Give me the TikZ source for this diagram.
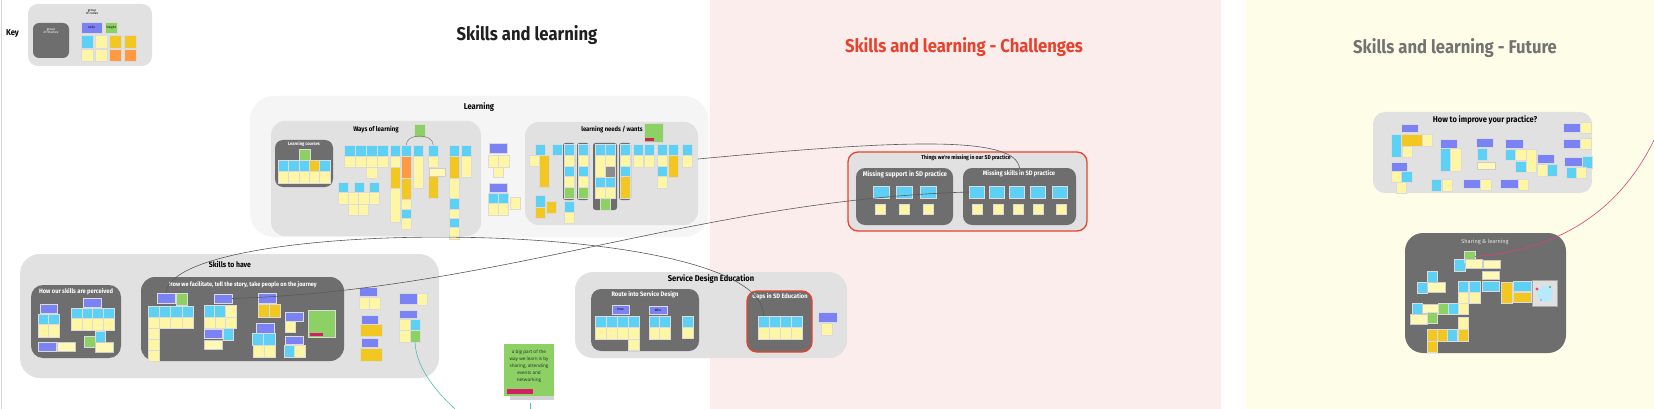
\documentclass[tikz,border=0pt]{standalone}
\usepackage{fontspec}
\setmainfont{Fira Sans}
\newfontfamily\headfont[FakeStretch=0.9]{Fira Sans}
\newfontfamily\notefont{Open Sans}
\usetikzlibrary{positioning,calc}
\definecolor{skcyan}{RGB}{93,209,245}
\definecolor{skyellow}{RGB}{255,246,165}
\definecolor{skgold}{RGB}{242,199,34}
\definecolor{skorange}{RGB}{255,154,66}
\definecolor{skgreen}{RGB}{141,209,100}
\definecolor{skpurple}{RGB}{123,130,244}
\definecolor{skdark}{RGB}{110,110,110}
\definecolor{skgroup}{RGB}{225,225,225}
\definecolor{sklight}{RGB}{245,245,245}
\definecolor{skpink}{RGB}{252,237,237}
\definecolor{skcream}{RGB}{254,254,232}
\definecolor{skred}{RGB}{232,66,44}
\definecolor{skmagenta}{RGB}{214,30,100}
\definecolor{skteal}{RGB}{80,190,170}
\definecolor{skline}{RGB}{90,90,90}
\newcommand\sticky[5]{\path[#1] (#2,#3) rectangle (#4,#5);}
\newcommand\boxnode[6]{\node[#2,anchor=north west,inner sep=0pt,outer sep=0pt,minimum width={#5-#3},minimum height={#6-#4}] (#1) at (#3,#4) {};}

\begin{document}
\begin{tikzpicture}[x=1pt,y=-1pt,
  stk/.style={draw=black!14,line width=0.3pt},
  ncyan/.style={stk,fill=skcyan},
  nyel/.style={stk,fill=skyellow},
  ngold/.style={stk,fill=skgold},
  norange/.style={stk,fill=skorange},
  ngreen/.style={stk,fill=skgreen},
  npurple/.style={stk,fill=skpurple},
  nslip/.style={stk,fill=skyellow!80,draw=black!20},
  nbar/.style={fill=skmagenta},
  ncol/.style={fill=skdark,rounded corners=2.5pt},
  grp/.style={fill=skgroup,rounded corners=14pt},
  darkgrp/.style={fill=skdark,rounded corners=10pt},
  redgrp/.style={draw=skred,line width=1.3pt},
  ttl/.style={inner sep=0pt,font=\headfont\bfseries\fontsize{#1}{#1}\selectfont},
  wttl/.style={ttl=#1,text=white},
  notetxt/.style={inner sep=0pt,font=\fontsize{3.2}{3.8}\selectfont,align=center},
  conn/.style={draw=skline,line width=0.6pt}]
\useasboundingbox (0,0) rectangle (1654,409);
\fill[white] (0,0) rectangle (1654,409);
\fill[skpink] (710,0) rectangle (1221,409);
\fill[skcream] (1245,0) rectangle (1654,409);
\draw[black!15] (1,0) -- (1,409);

\node[ttl=18.5,text=black!88] (mainhead) at (527,35.5) {Skills and learning};
\node[ttl=18.5,text=skred] (challhead) at (964,47.5) {Skills and learning - Challenges};
\node[ttl=18.5,text=black!55] (futurehead) at (1455,48.5) {Skills and learning - Future};

% key
\node[ttl=8.5] (keylabel) at (12.5,33.5) {Key};
\boxnode{keybox}{grp,rounded corners=10pt}{28}{4}{152}{66}
\boxnode{keygroup}{darkgrp,rounded corners=6pt}{33}{23}{69}{58}
\node[notetxt,text=white] (keygtxt) at (51,31) {group\\of themes};
\node[notetxt] (keyctxt) at (92,12) {group\\of codes};
\boxnode{keycode}{npurple}{81}{22}{102}{33}
\node[notetxt] (keycodetxt) at (keycode) {code};
\boxnode{keyinsight}{ngreen}{105}{22}{117}{33}
\node[notetxt] (keyinsighttxt) at (keyinsight) {insight};
\sticky{ncyan}{81}{35}{93}{48}
\sticky{nyel}{95}{35}{107}{48}
\sticky{ngold}{109}{35}{121}{48}
\sticky{ngold}{124}{35}{136}{48}
\sticky{nyel}{81}{49}{93}{61}
\sticky{nyel}{95}{49}{107}{61}
\sticky{norange}{109}{49}{121}{61}
\sticky{norange}{124}{49}{136}{61}

% learning
\boxnode{learnbox}{grp,fill=sklight,rounded corners=24pt}{250}{96}{708}{237}
\node[ttl=8.5] (learntitle) at (479,107) {Learning};
\boxnode{waysbox}{grp}{271}{121}{481}{236}
\node[ttl=6.7] (waystitle) at (376,130) {Ways of learning};
\boxnode{coursebox}{darkgrp,rounded corners=8pt}{275}{140}{333}{187}
\node[wttl=4.6] (coursetitle) at (304,144) {Learning courses};
\sticky{ngreen}{299}{149}{310}{160}
\foreach \x in {278,288.4,298.8,319.6} {\sticky{ncyan}{\x}{160}{\x+10.4}{171}}
\sticky{ngold}{309.2}{160}{319.6}{171}
\foreach \x in {278,288.4,298.8,309.2,319.6} {\sticky{nyel}{\x}{171}{\x+10.4}{183}}
\foreach \x in {344,355,366,377} {\sticky{ncyan}{\x}{145}{\x+11}{156} \sticky{nyel}{\x}{156}{\x+11}{167}}
\foreach \x in {390,413,449,461} {\sticky{ncyan}{\x}{145}{\x+10.5}{156}}
\boxnode{wlarcl}{ncyan}{401}{145}{411.5}{156}
\boxnode{wlarcr}{ncyan}{428}{145}{438.5}{156}
\foreach \x in {390,428,461} {\sticky{nyel}{\x}{156}{\x+10.5}{167}}
\sticky{nyel}{366}{167}{377}{178}
\sticky{ngold}{390}{167}{400.5}{188}
\sticky{nyel}{390}{188}{400.5}{222}
\sticky{norange}{401}{156}{411.5}{178}
\sticky{ngold}{401}{178}{411.5}{199}
\sticky{nyel}{401}{199}{411.5}{209}
\sticky{ncyan}{401}{209}{411.5}{218}
\sticky{nyel}{401}{218}{411.5}{229}
\sticky{nyel}{413}{156}{423.5}{188}
\sticky{ngold}{428}{176}{438.5}{198}
\sticky{nslip}{429}{168}{445}{176}
\sticky{ngold}{449}{156}{459.5}{178}
\sticky{nyel}{449}{178}{459.5}{198}
\sticky{ncyan}{449}{198}{459.5}{209}
\sticky{nyel}{449}{209}{459.5}{218}
\sticky{ncyan}{449}{218}{459.5}{227}
\sticky{nyel}{449}{227}{459.5}{239}
\sticky{nyel}{461}{156}{471.5}{177}
\foreach \x in {338,354,369} {\sticky{ncyan}{\x}{182}{\x+10.5}{192}}
\foreach \x in {338,348.3,358.6,368.9} {\sticky{nyel}{\x}{192}{\x+10.3}{204}}
\foreach \x in {348,358} {\sticky{nyel}{\x}{204}{\x+10}{215}}
\boxnode{wlgreen}{ngreen}{414}{124}{425}{137}
\draw[skline!80,line width=0.5pt] (wlarcl.north) .. controls (406,133) and (433,133) .. (wlarcr.north);

\sticky{npurple}{489}{143}{507}{153}
\foreach \x in {488,498.5} {\sticky{nyel}{\x}{155}{\x+10.5}{167}}
\sticky{nyel}{493}{167}{503}{177}
\sticky{npurple}{489}{183}{507}{192}
\foreach \x in {488,498} {\sticky{ncyan}{\x}{193}{\x+10}{203} \sticky{nyel}{\x}{203}{\x+10}{215}}
\sticky{nyel}{510}{197}{520}{209}

\boxnode{needsbox}{grp}{525}{122}{698}{225}
\node[ttl=6.5] (needstitle) at (612,130) {learning needs / wants};
\sticky{ngreen}{644}{123}{663}{142}
\sticky{nbar}{645}{138}{654}{141}
\sticky{ncol}{563}{143}{575}{200}
\sticky{ncol}{577}{143}{589}{200}
\sticky{ncol}{593}{143}{617}{210}
\sticky{ncol}{619}{143}{631}{200}
\foreach \x in {535,552,564,578,595,605,620,633,644,657,668,682} {\sticky{ncyan}{\x}{144}{\x+10}{155}}
\sticky{nyel}{529}{155}{539}{166}
\sticky{ngold}{539}{155}{549}{187}
\foreach \x in {564,578} {\sticky{nyel}{\x}{155}{\x+10}{166} \sticky{ncyan}{\x}{166}{\x+10}{176} \sticky{nyel}{\x}{176}{\x+10}{187} \sticky{ngreen}{\x}{187}{\x+10}{198}}
\sticky{nyel}{595}{155}{605}{177}
\sticky{nyel}{605}{155}{615}{166}
\sticky{stk,fill=black!45}{605}{166}{615}{177}
\foreach \x in {595,605} {\sticky{ncyan}{\x}{177}{\x+10}{187} \sticky{nyel}{\x}{187}{\x+10}{198}}
\sticky{ngreen}{600}{198}{610}{210}
\sticky{nyel}{620}{155}{630}{166}
\sticky{ncyan}{620}{166}{630}{176}
\sticky{ngold}{620}{176}{630}{198}
\foreach \x in {633,644,682} {\sticky{nyel}{\x}{155}{\x+10}{167}}
\sticky{nyel}{657}{155}{667}{166}
\sticky{ncyan}{657}{166}{667}{176}
\sticky{nyel}{657}{176}{667}{188}
\sticky{ngold}{668}{155}{678}{177}
\sticky{ncyan}{535}{195}{545}{207}
\sticky{ngold}{535}{207}{545}{218}
\sticky{ngold}{546}{201}{556}{213}
\sticky{ncyan}{564}{201}{574}{212}
\sticky{nyel}{564}{212}{574}{223}

% skills to have
\boxnode{havebox}{grp,rounded corners=20pt}{20}{254}{439}{378}
\node[ttl=7.7] (havetitle) at (230,264) {Skills to have};
\boxnode{percbox}{darkgrp,rounded corners=12pt}{31}{285}{121}{358}
\node[wttl=6.4] (perctitle) at (76,292) {How our skills are perceived};
\sticky{npurple}{40}{304}{57}{313}
\foreach \x in {38,48.5} {\sticky{ncyan}{\x}{314}{\x+10.5}{324} \sticky{nyel}{\x}{324}{\x+10.5}{337}}
\sticky{npurple}{83}{298}{101}{307}
\foreach \x in {71,81.75,92.5,103.25} {\sticky{ncyan}{\x}{308}{\x+10.75}{318} \sticky{nyel}{\x}{318}{\x+10.75}{330}}
\sticky{ngreen}{84}{336}{95}{347}
\sticky{ncyan}{95}{331}{105}{342}
\sticky{npurple}{38}{342}{56}{351}
\sticky{nslip}{57}{342}{75}{351}
\sticky{nslip}{95}{342}{113}{352}

\boxnode{facbox}{darkgrp,rounded corners=14pt}{141}{277}{344}{361}
\node[wttl=6.1] (factitle) at (243,285) {How we facilitate, tell the story, take people on the journey};
\boxnode{faca}{npurple}{157}{293}{175}{303}
\sticky{ngreen}{176}{293}{187}{305}
\foreach \x in {148,159.25,170.5,181.75} {\sticky{ncyan}{\x}{306}{\x+11.25}{317} \sticky{nyel}{\x}{317}{\x+11.25}{328}}
\foreach \y in {328,339,350} {\sticky{nyel}{148}{\y}{159}{\y+11}}
\boxnode{facb}{npurple}{214}{294}{232}{303}
\foreach \x in {204,214.5} {\sticky{ncyan}{\x}{305}{\x+10.5}{317}}
\sticky{nyel}{225}{305}{236}{317}
\foreach \x in {204,214.7,225.3} {\sticky{nyel}{\x}{317}{\x+10.7}{328}}
\sticky{npurple}{204}{329}{222}{338}
\sticky{ncyan}{223}{328}{233}{340}
\sticky{nslip}{204}{340}{222}{349}
\sticky{npurple}{258}{293}{276}{303}
\foreach \x in {258,269} {\sticky{ngold}{\x}{304}{\x+11}{317}}
\sticky{npurple}{256}{323}{274}{333}
\foreach \x in {252,263.5} {\sticky{ncyan}{\x}{333}{\x+11.5}{345}}
\foreach \x in {253,264} {\sticky{nyel}{\x}{345}{\x+11}{357}}
\sticky{npurple}{285}{312}{303}{321}
\sticky{nyel}{285}{321}{295}{332}
\sticky{npurple}{285}{336}{303}{344}
\sticky{ncyan}{284}{345}{294}{357}
\sticky{nyel}{294}{345}{305}{357}
\sticky{ngreen}{308}{310}{335}{337}
\sticky{nbar}{310}{333}{323}{336}

\sticky{npurple}{359}{287}{377}{296}
\foreach \x in {359,369.5} {\sticky{nyel}{\x}{297}{\x+10.5}{309}}
\sticky{npurple}{361}{315}{378}{324}
\sticky{ngold}{360}{324}{382}{336}
\sticky{npurple}{361}{338}{378}{347}
\sticky{ngold}{360}{348}{382}{361}
\sticky{npurple}{399}{293}{417}{304}
\sticky{nyel}{417}{293}{427}{305}
\sticky{npurple}{399}{310}{417}{318}
\sticky{nyel}{399}{319}{410}{330}
\sticky{nyel}{399}{330}{410}{342}
\sticky{ncyan}{410}{319}{420}{330}
\boxnode{havegreen}{ngreen}{410}{330}{420}{342}

% service design education
\boxnode{sdebox}{grp,rounded corners=18pt}{575}{272}{847}{358}
\node[ttl=8.4] (sdetitle) at (711,279) {Service Design Education};
\boxnode{routebox}{darkgrp}{591}{289}{699}{351}
\node[wttl=6.4] (routetitle) at (645,295) {Route into Service Design};
\boxnode{routehow}{npurple}{612}{305}{629}{314}
\node[notetxt] (routehowtxt) at (routehow) {How};
\boxnode{routewho}{npurple}{649}{306}{667}{314}
\node[notetxt] (routewhotxt) at (routewho) {Who};
\foreach \x in {595,606,617,628} {\sticky{ncyan}{\x}{316}{\x+11}{327}}
\foreach \x in {595,606,617} {\sticky{nyel}{\x}{327}{\x+11}{339}}
\sticky{nyel}{628}{327}{639}{339}
\sticky{nyel}{628}{339}{639}{350}
\foreach \x in {649,659.5} {\sticky{ncyan}{\x}{316}{\x+10.5}{327} \sticky{nyel}{\x}{327}{\x+10.5}{339}}
\sticky{ncyan}{682}{316}{693}{327}
\sticky{nyel}{682}{327}{693}{338}
\boxnode{gapsbox}{darkgrp,redgrp}{747}{291}{812}{352}
\node[wttl=6.4] (gapstitle) at (780,297) {Gaps in SD Education};
\boxnode{gapa}{ncyan}{758}{316}{769}{327}
\foreach \x in {769,780,791} {\sticky{ncyan}{\x}{316}{\x+11}{327}}
\foreach \x in {758,769,780,791} {\sticky{nyel}{\x}{327}{\x+11}{339}}
\sticky{npurple}{818}{312}{837}{322}
\sticky{nyel}{821}{323}{832}{335}

\boxnode{bignote}{ngreen,draw=none}{504}{344}{554}{396}
\fill[black!35,opacity=0.5] (510,396) rectangle (554,400);
\node[inner sep=0pt,align=center,font=\notefont\fontsize{4.6}{7}\selectfont,text=black!85] (bignotetxt) at (529,366.5) {a big part of the\\way we learn is by\\sharing, attending\\events and\\networking};
\sticky{nbar}{507}{389}{533}{394}

% challenges
\boxnode{thingsbox}{grp,redgrp,rounded corners=10pt}{848}{152}{1087}{231}
\node[ttl=5.6] (thingstitle) at (966,158) {Things we're missing in our SD practice};
\boxnode{supbox}{darkgrp,rounded corners=9pt}{856}{168}{953}{225}
\node[wttl=6.8] (suptitle) at (905,174) {Missing support in SD practice};
\boxnode{mskbox}{darkgrp,rounded corners=9pt}{963}{168}{1076}{225}
\node[wttl=6.4] (msktitle) at (1019,174) {Missing skills in SD practice};
\foreach \x in {873,896,920} {\sticky{ncyan}{\x}{186}{\x+16.5}{198}}
\foreach \x in {875,899,923} {\sticky{nyel}{\x}{204}{\x+10}{214}}
\boxnode{mska}{ncyan}{969}{186}{984}{198}
\foreach \x in {989,1009,1030,1052} {\sticky{ncyan}{\x}{186}{\x+15}{198}}
\foreach \x in {972,993,1013,1033,1056} {\sticky{nyel}{\x}{204}{\x+10}{214}}

% future
\boxnode{improvebox}{grp,rounded corners=12pt}{1373}{112}{1592}{193}
\node[ttl=8.4] (improvetitle) at (1485,120) {How to improve your practice?};
\sticky{npurple}{1401}{124}{1418}{132}
\sticky{ncyan}{1391}{134}{1401}{157}
\sticky{ngold}{1401}{134}{1422}{146}
\sticky{nyel}{1422}{134}{1432}{146}
\sticky{nyel}{1402}{146}{1412}{157}
\sticky{npurple}{1391}{162}{1407}{171}
\sticky{nyel}{1391}{171}{1401}{182}
\sticky{ncyan}{1401}{171}{1412}{182}
\sticky{nyel}{1396}{182}{1406}{193}
\sticky{npurple}{1440}{139}{1457}{148}
\sticky{ncyan}{1440}{148}{1450}{171}
\sticky{nyel}{1450}{148}{1461}{171}
\sticky{ncyan}{1431}{179}{1441}{191}
\sticky{nyel}{1442}{179}{1452}{191}
\sticky{npurple}{1476}{138}{1493}{147}
\sticky{ncyan}{1477}{148}{1487}{160}
\sticky{nslip}{1477}{162}{1495}{169}
\sticky{npurple}{1463}{179}{1480}{188}
\sticky{nyel}{1480}{179}{1491}{190}
\sticky{npurple}{1505}{139}{1523}{148}
\sticky{ncyan}{1505}{149}{1515}{160}
\sticky{nyel}{1515}{149}{1526}{160}
\sticky{nyel}{1526}{149}{1536}{172}
\sticky{ncyan}{1515}{161}{1526}{172}
\sticky{npurple}{1500}{179}{1518}{188}
\sticky{nyel}{1518}{179}{1528}{190}
\sticky{npurple}{1537}{154}{1554}{163}
\sticky{nyel}{1537}{164}{1547}{176}
\sticky{ncyan}{1547}{164}{1557}{176}
\sticky{npurple}{1563}{123}{1580}{132}
\sticky{nyel}{1580}{122}{1591}{133}
\sticky{npurple}{1563}{139}{1580}{148}
\sticky{nyel}{1580}{138}{1591}{149}
\sticky{npurple}{1564}{157}{1582}{166}
\sticky{ncyan}{1582}{156}{1592}{168}
\sticky{ncyan}{1566}{167}{1576}{178}
\sticky{nyel}{1576}{167}{1586}{178}

\boxnode{sharebox}{darkgrp,rounded corners=18pt}{1405}{233}{1566}{353}
\node[inner sep=0pt,text=white!90!black,font=\fontsize{5.6}{6}\selectfont] (sharetitle) at (1485,242) {Sharing \& learning};
\sticky{ncyan}{1454}{259}{1465}{271}
\boxnode{sharegreen}{ngreen}{1464}{251}{1475}{262}
\sticky{nslip}{1465}{259}{1482}{268}
\sticky{nslip}{1483}{260}{1500}{268}
\sticky{nslip}{1482}{271}{1499}{279}
\sticky{ncyan}{1482}{281}{1499}{291}
\sticky{ncyan}{1427}{271}{1437}{282}
\sticky{ncyan}{1417}{282}{1427}{293}
\sticky{nslip}{1427}{282}{1445}{292}
\sticky{ncyan}{1458}{281}{1468}{292}
\sticky{nyel}{1458}{292}{1468}{303}
\sticky{nyel}{1458}{303}{1468}{314}
\sticky{ncyan}{1469}{281}{1480}{292}
\sticky{nyel}{1469}{292}{1480}{303}
\sticky{ngold}{1501}{282}{1512}{303}
\sticky{ncyan}{1513}{281}{1531}{291}
\sticky{ngold}{1513}{292}{1531}{302}
\sticky{stk,fill=black!12,draw=black!35}{1532}{280}{1557}{306}
\fill[skcyan!45] (1545,294) circle (8);
\fill[skmagenta!80] (1537,289) circle (1.6);
\fill[skteal] (1550,287) circle (1.3);
\fill[skpurple!70] (1541,300) circle (1.2);
\sticky{ncyan}{1412}{303}{1422}{314}
\sticky{nslip}{1422}{304}{1438}{313}
\sticky{ngreen}{1438}{303}{1448}{314}
\sticky{ncyan}{1448}{303}{1458}{314}
\sticky{nslip}{1410}{314}{1427}{324}
\sticky{ngreen}{1427}{312}{1437}{323}
\sticky{nyel}{1458}{317}{1468}{329}
\sticky{ngold}{1427}{329}{1437}{341}
\sticky{ngold}{1427}{341}{1437}{352}
\sticky{ngold}{1437}{329}{1447}{341}
\sticky{ncyan}{1447}{329}{1457}{341}
\sticky{ngold}{1458}{329}{1468}{341}

% connectors
\coordinate (shareout) at (1654,140);
\coordinate (haveout) at (455,409);
\coordinate (notetickt) at (530,403);
\coordinate (notetickb) at (530,409);
\draw[conn] (faca.north) .. controls (172,215) and (765,215) .. (gapa.north);
\draw[conn] (facb.east) .. controls (500,290) and (700,200) .. (mska.west);
\draw[conn] ([yshift=14.5pt]needsbox.east) .. controls (900,140) and (1015,135) .. (mskbox.north);
\draw[skmagenta!85,line width=0.6pt] (sharegreen.east) .. controls (1560,250) and (1620,210) .. (shareout);
\draw[skteal,line width=0.6pt] (havegreen.south) .. controls (416,370) and (440,395) .. (haveout);
\draw[skteal,line width=0.6pt] (notetickt) -- (notetickb);
\end{tikzpicture}
\end{document}
